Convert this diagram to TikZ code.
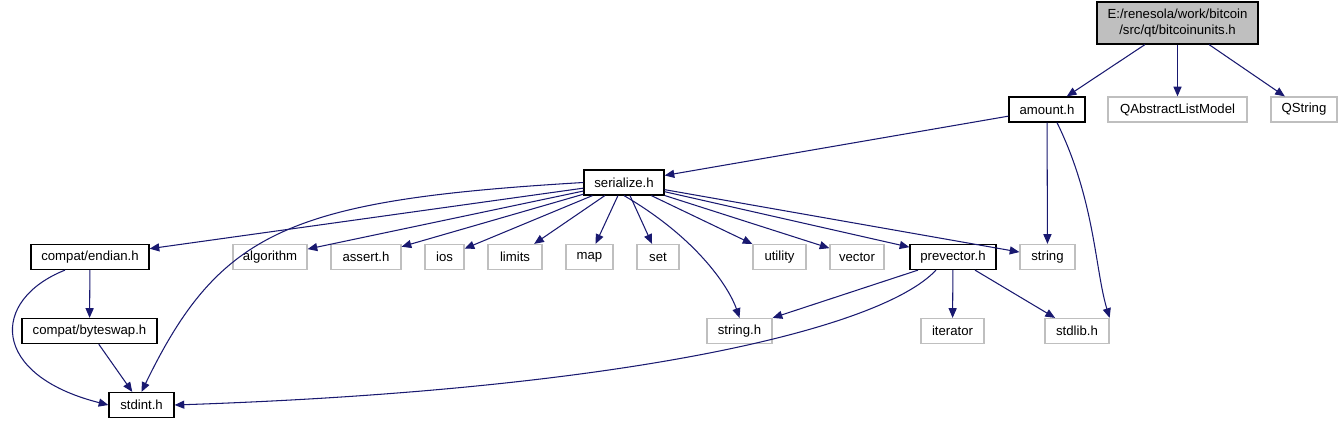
\documentclass[tikz,border=0pt]{standalone}
\usepackage{fontspec}
\setmainfont{Liberation Sans}
\usetikzlibrary{arrows.meta}

\definecolor{edgeblue}{HTML}{191970}
\definecolor{boxgray}{HTML}{BFBFBF}

\tikzset{
	file/.style={draw=black, fill=white, inner sep=0pt, line width=0.7pt,
		minimum height=0.5cm, font=\fontsize{7.5}{9}\selectfont},
	extfile/.style={file, draw=boxgray},
	dep/.style={edgeblue, line width=0.6pt, -{Triangle[length=5.5pt,width=4.6pt]}}
}

\begin{document}
\begin{tikzpicture}[x=0.02cm, y=-0.02cm]

\useasboundingbox (0,0) rectangle (1344,425);

% the file itself
\node[file, fill=boxgray, minimum width=3.22cm, minimum height=0.84cm, align=center]
	(bitcoinunits) at (1177.5,23) {E:/renesola/work/bitcoin\\/src/qt/bitcoinunits.h};

% headers of the project
\foreach \name/\x/\y/\w/\label in {
	amount/1047/109.5/76/amount.h,
	serialize/624/182.5/80/serialize.h,
	endian/90/257/118/{compat/endian.h},
	prevector/953/257/86/prevector.h,
	byteswap/89.5/331/135/{compat/byteswap.h},
	stdint/141.5/405/65/stdint.h}{
	\node[file, minimum width=\w*0.02cm] (\name) at (\x,\y) {\label};
}

% headers from outside
\foreach \name/\x/\y/\w/\label in {
	qalm/1177.5/109.5/139/QAbstractListModel,
	qstring/1304/109.5/66/QString,
	algorithm/270/257/74/algorithm,
	assert/366/257/70/assert.h,
	ios/444.5/257/39/ios,
	limits/515/257/54/limits,
	map/589.5/257/47/map,
	set/658/257/42/set,
	utility/779.5/257/53/utility,
	vector/857/257/54/vector,
	string/1047.5/257/55/string,
	stringh/739.5/331/65/string.h,
	iterator/952.5/331/63/iterator,
	stdlib/1077/331/64/stdlib.h}{
	\node[extfile, minimum width=\w*0.02cm] (\name) at (\x,\y) {\label};
}

% straight includes
\foreach \from/\to in {
	bitcoinunits/amount, bitcoinunits/qalm, bitcoinunits/qstring,
	amount/serialize, amount/string,
	serialize/endian, serialize/algorithm, serialize/assert, serialize/ios,
	serialize/limits, serialize/map, serialize/set, serialize/utility,
	serialize/vector, serialize/prevector, serialize/string,
	endian/byteswap, byteswap/stdint,
	prevector/iterator, prevector/stdlib}{
	\draw[dep] (\from) -- (\to);
}
\draw[dep] ([xshift=-0.7cm]prevector.south) -- (stringh.north east);

% bent includes
\draw[dep] ([xshift=0.2cm]amount.south) .. controls (1095,200) and (1095,270) .. (stdlib.north east);
\draw[dep] (serialize.west) .. controls (290,200) and (220,230) .. (stdint.north);
\draw[dep] (serialize.south) .. controls (700,240) and (730,290) .. (stringh.north);
\draw[dep] ([xshift=-0.5cm]endian.south) .. controls (-10,300) and (-10,375) .. (stdint.west);
\draw[dep] ([xshift=-0.34cm]prevector.south) .. controls (880,330) and (620,390) .. (stdint.east);

\end{tikzpicture}
\end{document}
